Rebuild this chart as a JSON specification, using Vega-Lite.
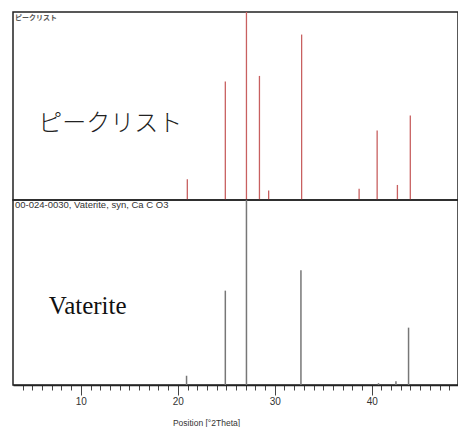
{
  "$schema": "https://vega.github.io/schema/vega-lite/v6.json",
  "padding": {"left": 12, "top": 10, "right": 0, "bottom": 0},
  "background": "white",
  "spacing": 0,
  "bounds": "flush",
  "config": {
    "view": {"stroke": "#222", "strokeWidth": 1.5},
    "axis": {"domainColor": "#222", "domainWidth": 1.5}
  },
  "datasets": {
    "peaks": [
      {"pos": 20.98, "intensity": 11},
      {"pos": 24.9, "intensity": 63},
      {"pos": 27.08, "intensity": 100},
      {"pos": 28.42, "intensity": 66},
      {"pos": 29.37, "intensity": 5},
      {"pos": 32.77, "intensity": 88},
      {"pos": 38.7, "intensity": 6},
      {"pos": 40.56, "intensity": 37},
      {"pos": 42.65, "intensity": 8},
      {"pos": 43.98, "intensity": 45}
    ],
    "vaterite": [
      {"pos": 20.9, "intensity": 5},
      {"pos": 24.9, "intensity": 51},
      {"pos": 27.08, "intensity": 100},
      {"pos": 32.7, "intensity": 62},
      {"pos": 40.7, "intensity": 1},
      {"pos": 42.5, "intensity": 2},
      {"pos": 43.8, "intensity": 31}
    ]
  },
  "vconcat": [
    {
      "width": 445,
      "height": 188,
      "layer": [
        {
          "data": {"name": "peaks"},
          "mark": {"type": "rule", "color": "#c86060", "strokeWidth": 1.3},
          "encoding": {
            "x": {"field": "pos", "type": "quantitative", "scale": {"domain": [3, 48.9], "nice": false, "zero": false}, "axis": null},
            "y": {"field": "intensity", "type": "quantitative", "scale": {"domain": [0, 100], "nice": false}, "axis": null},
            "y2": {"datum": 0}
          }
        },
        {
          "data": {"values": [{"label": "ピークリスト"}]},
          "mark": {"type": "text", "align": "left", "baseline": "middle", "font": "Noto Sans CJK JP", "fontSize": 7, "fontWeight": "bold", "color": "#555"},
          "encoding": {
            "x": {"datum": 3.2},
            "y": {"datum": 97},
            "text": {"field": "label"}
          }
        },
        {
          "data": {"values": [{"label": "ピークリスト"}]},
          "mark": {"type": "text", "align": "left", "baseline": "middle", "font": "Noto Sans CJK JP", "fontSize": 24, "fontWeight": 300, "color": "#222"},
          "encoding": {
            "x": {"datum": 5.6},
            "y": {"datum": 40.4},
            "text": {"field": "label"}
          }
        }
      ]
    },
    {
      "width": 445,
      "height": 185,
      "layer": [
        {
          "data": {"name": "vaterite"},
          "mark": {"type": "rule", "color": "#777", "strokeWidth": 1.5},
          "encoding": {
            "x": {
              "field": "pos", "type": "quantitative",
              "scale": {"domain": [3, 48.9], "nice": false, "zero": false},
              "title": "Position [°2Theta]",
              "axis": {
                "values": [4,5,6,7,8,9,10,11,12,13,14,15,16,17,18,19,20,21,22,23,24,25,26,27,28,29,30,31,32,33,34,35,36,37,38,39,40,41,42,43,44,45,46,47,48],
                "tickCount": 100,
                "format": "d",
                "labelExpr": "datum.value % 10 === 0 ? datum.label : ''",
                "labelOverlap": false,
                "labelFlush": false,
                "grid": false,
                "tickColor": "#444",
                "tickWidth": 1,
                "tickSize": {"condition": {"test": "datum.value % 10 === 0", "value": 10}, "value": 5},
                "labelFont": "Liberation Sans",
                "labelFontSize": 10,
                "labelColor": "#333",
                "labelPadding": 1,
                "titleFont": "Liberation Sans",
                "titleFontSize": 8.5,
                "titleFontWeight": "normal",
                "titleColor": "#333",
                "titleX": 193,
                "titleY": 37,
                "titleAlign": "center",
                "titleBaseline": "middle"
              }
            },
            "y": {"field": "intensity", "type": "quantitative", "scale": {"domain": [0, 100], "nice": false}, "axis": null},
            "y2": {"datum": 0}
          }
        },
        {
          "data": {"values": [{"label": "00-024-0030, Vaterite, syn, Ca C O3"}]},
          "mark": {"type": "text", "align": "left", "baseline": "middle", "font": "Liberation Sans", "fontSize": 9.5, "color": "#333"},
          "encoding": {
            "x": {"datum": 3.2},
            "y": {"datum": 97.3},
            "text": {"field": "label"}
          }
        },
        {
          "data": {"values": [{"label": "Vaterite"}]},
          "mark": {"type": "text", "align": "left", "baseline": "alphabetic", "font": "Liberation Serif", "fontSize": 25, "color": "#111"},
          "encoding": {
            "x": {"datum": 6.7},
            "y": {"datum": 38.4},
            "text": {"field": "label"}
          }
        }
      ]
    }
  ]
}
